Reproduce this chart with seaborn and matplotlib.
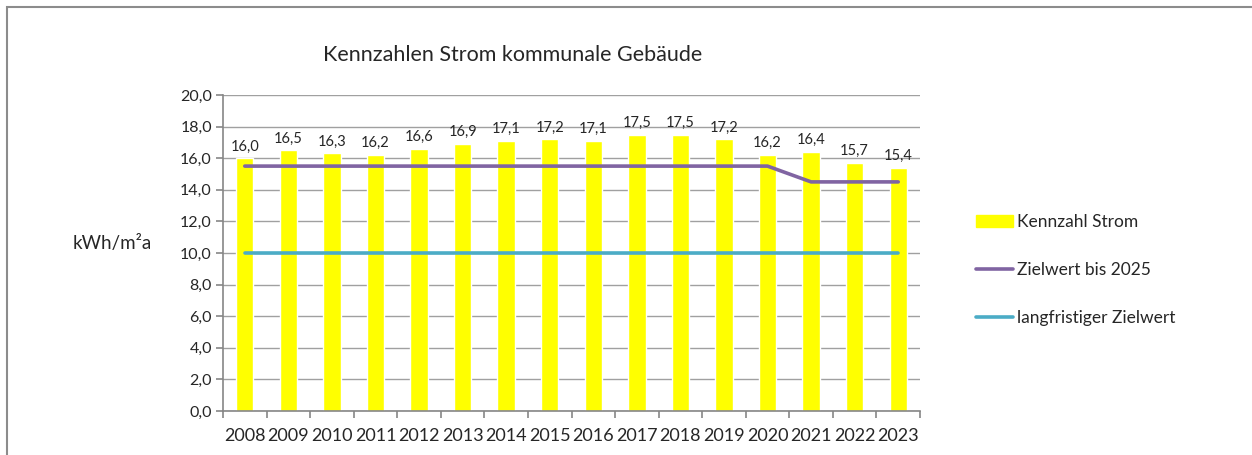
import numpy as np
import pandas as pd
import matplotlib
matplotlib.use("Agg")
import matplotlib.pyplot as plt
import matplotlib.patches as mpatches
from matplotlib.lines import Line2D
from matplotlib.ticker import FuncFormatter, MultipleLocator
import seaborn as sns

# ── data ────────────────────────────────────────────────
years        = [str(y) for y in range(2008, 2024)]
kennzahl     = [16.0, 16.5, 16.3, 16.2, 16.6, 16.9, 17.1, 17.2,
                17.1, 17.5, 17.5, 17.2, 16.2, 16.4, 15.7, 15.4]
ziel_2025    = [15.5] * 13 + [14.5] * 3
ziel_lang    = [10.0] * 16

title  = "Kennzahlen Strom kommunale Gebäude"
ylabel = "kWh/m²a"
labels = ["Kennzahl Strom", "Zielwert bis 2025", "langfristiger Zielwert"]

BAR_COLOR    = "#FFFF00"
PURPLE       = "#8064A2"
CYAN         = "#4BACC6"
GRID_COLOR   = "#A0A0A0"
AXIS_COLOR   = "#868686"

sns.set_theme(style="white")
plt.rcParams["font.family"] = ["Lato", "DejaVu Sans"]

df = pd.DataFrame({"year": years, "value": kennzahl})

fig = plt.figure(figsize=(12.52, 4.55), dpi=100)
ax = fig.add_axes([223 / 1252, 1 - 411 / 455, (920 - 223) / 1252, (411 - 95) / 455])

sns.barplot(data=df, x="year", y="value", color=BAR_COLOR, saturation=1,
            width=0.4, ax=ax, zorder=2)

pos = np.arange(len(years))
sns.lineplot(x=pos, y=ziel_2025, color=PURPLE, linewidth=2.6, ax=ax,
             zorder=3, solid_capstyle="round")
sns.lineplot(x=pos, y=ziel_lang, color=CYAN, linewidth=2.6, ax=ax,
             zorder=3, solid_capstyle="round")

# value labels above the bars
for p, v in zip(pos, kennzahl):
    ax.text(p, v + 0.3, f"{v:.1f}".replace(".", ","), ha="center",
            va="bottom", fontsize=10.5)

ax.set_ylim(0, 20)
ax.set_xlim(-0.5, len(years) - 0.5)
ax.yaxis.set_major_locator(MultipleLocator(2))
ax.yaxis.set_major_formatter(FuncFormatter(lambda v, _: f"{v:.1f}".replace(".", ",")))
ax.grid(axis="y", color=GRID_COLOR, linewidth=1.0, zorder=0)
ax.set_axisbelow(True)

for side in ["top", "right"]:
    ax.spines[side].set_visible(False)
for side in ["left", "bottom"]:
    ax.spines[side].set_color(AXIS_COLOR)
    ax.spines[side].set_linewidth(1.2)

# ticks at category boundaries on x
ax.set_xticks(pos)
ax.set_xticklabels(years, fontsize=13)
ax.set_xticks(np.arange(-0.5, len(years), 1), minor=True)
ax.tick_params(axis="x", which="major", length=0, pad=12)
ax.tick_params(axis="x", which="minor", length=5, color=AXIS_COLOR, width=1.2, direction="out")
ax.tick_params(axis="y", length=5, color=AXIS_COLOR, width=1.2, direction="out",
               labelsize=11.5, pad=3)
ax.tick_params(left=True, bottom=True, which="both")
ax.set_xlabel("")
ax.set_ylabel("")

fig.text(513 / 1252, 1 - 55 / 455, title, ha="center", va="center", fontsize=15.5)
fig.text(112 / 1252, 1 - 244 / 455, ylabel, ha="center", va="center", fontsize=13.5)

handles = [
    mpatches.Patch(color=BAR_COLOR),
    Line2D([0], [0], color=PURPLE, linewidth=2.6, solid_capstyle="round"),
    Line2D([0], [0], color=CYAN, linewidth=2.6, solid_capstyle="round"),
]
fig.legend(handles, labels, loc="center left",
           bbox_to_anchor=(976 / 1252, 1 - 270 / 455), frameon=False,
           fontsize=12.5, labelspacing=1.85, handlelength=2.15, handletextpad=0.2,
           borderpad=0, borderaxespad=0)

# outer chart frame (Excel style)
frame = mpatches.Rectangle((7 / 1252, -0.1), 1.1, 1 - 7 / 455 + 0.1,
                           transform=fig.transFigure, fill=False,
                           edgecolor="#8C8C8C", linewidth=1.5)
fig.patches.append(frame)

fig.savefig("out.png", dpi=100)
